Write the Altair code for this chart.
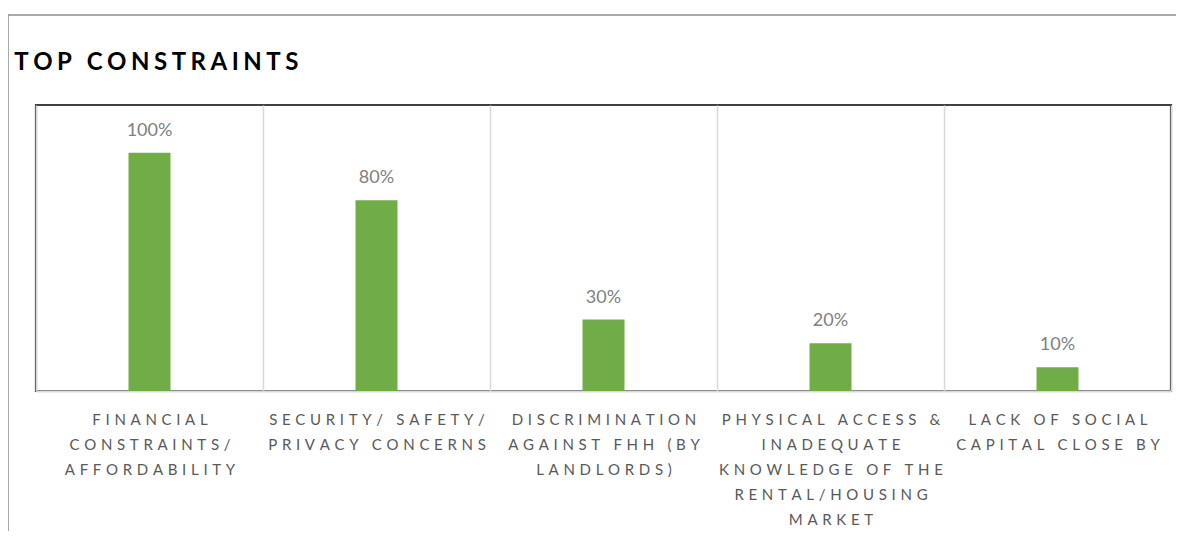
import altair as alt
import pandas as pd

categories = [
    "FINANCIAL|CONSTRAINTS/|AFFORDABILITY",
    "SECURITY/ SAFETY/|PRIVACY CONCERNS",
    "DISCRIMINATION|AGAINST FHH (BY|LANDLORDS)",
    "PHYSICAL ACCESS &|INADEQUATE|KNOWLEDGE OF THE|RENTAL/HOUSING|MARKET",
    "LACK OF SOCIAL|CAPITAL CLOSE BY",
]
values = [1.0, 0.8, 0.3, 0.2, 0.1]
value_labels = ["100%", "80%", "30%", "20%", "10%"]
title_text = "TOP CONSTRAINTS"


def spaced(s, sp):
    return "|".join(sp.join(list(line)) for line in s.split("|"))


df = pd.DataFrame({
    "category": [spaced(c, "\u2009\u2009\u200a") for c in categories],
    "value": values,
    "label": value_labels,
})

FONT = "Lato"

base = alt.Chart(df).encode(
    x=alt.X(
        "category:N",
        sort=None,
        scale=alt.Scale(paddingInner=0, paddingOuter=0),
        axis=alt.Axis(
            title=None,
            labelAngle=0,
            labelExpr="split(datum.label, '|')",
            labelFont=FONT,
            labelFontSize=15,
            labelColor="#595959",
            labelLineHeight=25,
            labelPadding=21,
            labelLimit=0,
            ticks=False,
            tickSize=0,
            domainColor="#d9d9d9",
            domainWidth=2,
            grid=True,
            gridColor="#d9d9d9",
            gridWidth=1.5,
            tickBand="extent",
        ),
    ),
    y=alt.Y("value:Q", scale=alt.Scale(domain=[0, 1.2]), axis=None),
)

bars = base.mark_bar(size=42, color="#70AD47")
text = base.mark_text(
    dy=-17, baseline="alphabetic", font=FONT, fontSize=18, color="#7f7f7f"
).encode(text="label:N")

frame_df = pd.DataFrame({"f": [0]})
frame_h = alt.Chart(frame_df).mark_rule(color="#8c8c8c", strokeWidth=1.5).encode(
    x=alt.value(-28), x2=alt.value(1140), y=alt.value(-90)
)
frame_v = alt.Chart(frame_df).mark_rule(color="#8c8c8c", strokeWidth=1.5).encode(
    x=alt.value(-28), y=alt.value(-90), y2=alt.value(440)
)

chart = alt.layer(frame_h, frame_v, bars, text).properties(
    width=1135,
    height=286,
    autosize=alt.AutoSizeParams(type="none"),
    padding={"left": 28, "top": 97, "right": 5, "bottom": 140},
    title=alt.Title(
        spaced(title_text, "\u2009\u200a"),
        anchor="start",
        dx=7,
        offset=-80,
        baseline="alphabetic",
        font=FONT,
        fontSize=24,
        fontWeight="bold",
        color="#000000",
    ),
).configure_view(stroke="#404040", strokeWidth=2.2)

chart.save("out.html", embed_options={"renderer": "svg", "actions": False})
